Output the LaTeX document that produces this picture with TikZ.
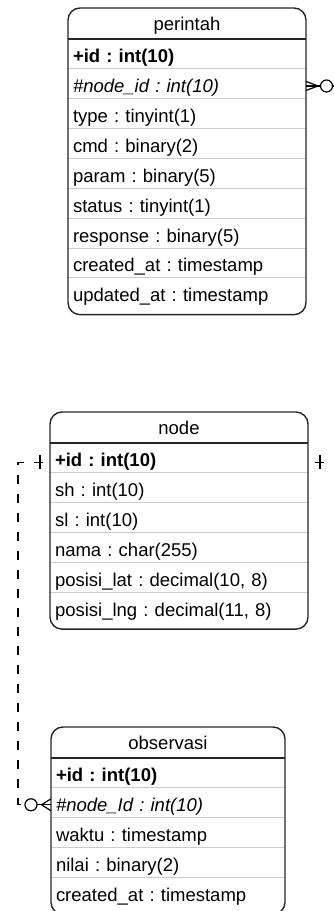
\documentclass[tikz,border=0pt]{standalone}
\usepackage{fontspec}
\setmainfont{Liberation Sans}
\frenchspacing
\usetikzlibrary{positioning}

\tikzset{
  ent/.style={outer sep=0pt, inner xsep=5pt, inner ysep=0pt, text width=#1, align=left,
    minimum height=29.85pt, text height=20pt, text depth=2pt, font=\fontsize{18.5}{20}\selectfont},
  enthead/.style={ent=#1, align=center, minimum height=31pt, text height=16pt, anchor=north west},
  rowsep/.style={draw=gray!40, line width=0.9pt},
  headsep/.style={draw=black!85, line width=1.4pt},
  frame/.style={draw=black!85, line width=1.4pt, rounded corners=12pt},
  rel/.style={draw=black, line width=1.2pt},
  reldash/.style={rel, dash pattern=on 9pt off 10pt, dash phase=12pt},
}

\begin{document}
\begin{tikzpicture}[x=1pt,y=-1pt]
    \useasboundingbox (0,0) rectangle (334,911);
    \clip (0,0) rectangle (334,911);
    % perintah
    \node[enthead=228pt] (perintah) at (68,8) {perintah};
    \node[ent=228pt, below=0pt of perintah] (p1) {\textbf{+id : int(10)}};
    \node[ent=228pt, below=0pt of p1] (p2) {\textit{\#node\_id : int(10)}};
    \node[ent=228pt, below=0pt of p2] (p3) {type : tinyint(1)};
    \node[ent=228pt, below=0pt of p3] (p4) {cmd : binary(2)};
    \node[ent=228pt, below=0pt of p4] (p5) {param : binary(5)};
    \node[ent=228pt, below=0pt of p5] (p6) {status : tinyint(1)};
    \node[ent=228pt, below=0pt of p6] (p7) {response : binary(5)};
    \node[ent=228pt, below=0pt of p7] (p8) {created\_at : timestamp};
    \node[ent=228pt, below=0pt of p8] (p9) {updated\_at : timestamp};
    \foreach \r in {p1,p2,p3,p4,p5,p6,p7,p8}
      \draw[rowsep] (\r.south west) -- (\r.south east);
    \draw[headsep] (perintah.south west) -- (perintah.south east);
    \draw[frame] (perintah.north west) rectangle ([yshift=-7pt]p9.south east);
    % node
    \node[enthead=248pt] (nodes) at (50,412) {node};
    \node[ent=248pt, below=0pt of nodes] (n1) {\textbf{+id : int(10)}};
    \node[ent=248pt, below=0pt of n1] (n2) {sh : int(10)};
    \node[ent=248pt, below=0pt of n2] (n3) {sl : int(10)};
    \node[ent=248pt, below=0pt of n3] (n4) {nama : char(255)};
    \node[ent=248pt, below=0pt of n4] (n5) {posisi\_lat : decimal(10, 8)};
    \node[ent=248pt, below=0pt of n5] (n6) {posisi\_lng : decimal(11, 8)};
    \foreach \r in {n1,n2,n3,n4,n5}
      \draw[rowsep] (\r.south west) -- (\r.south east);
    \draw[headsep] (nodes.south west) -- (nodes.south east);
    \draw[frame] (nodes.north west) rectangle ([yshift=-7pt]n6.south east);
    % observasi
    \node[enthead=224pt] (observasi) at (51,727) {observasi};
    \node[ent=224pt, below=0pt of observasi] (o1) {\textbf{+id : int(10)}};
    \node[ent=224pt, below=0pt of o1] (o2) {\textit{\#node\_Id : int(10)}};
    \node[ent=224pt, below=0pt of o2] (o3) {waktu : timestamp};
    \node[ent=224pt, below=0pt of o3] (o4) {nilai : binary(2)};
    \node[ent=224pt, below=0pt of o4] (o5) {created\_at : timestamp};
    \foreach \r in {o1,o2,o3,o4}
      \draw[rowsep] (\r.south west) -- (\r.south east);
    \draw[headsep] (observasi.south west) -- (observasi.south east);
    \draw[frame] (observasi.north west) rectangle ([yshift=-7pt]o5.south east);
    % node -- observasi
    \draw[reldash] ([yshift=-4.5pt]n1.west) -- ++(-32,0) |- ([xshift=-26pt,yshift=-2pt]o2.west);
    \draw[rel] ([xshift=-10pt,yshift=2.5pt]n1.west) -- ([xshift=-10pt,yshift=-11.5pt]n1.west);
    \draw[rel] ([xshift=-14pt,yshift=-2pt]o2.west) -- ([yshift=-2pt]o2.west);
    \draw[rel] ([xshift=-9.5pt,yshift=-2pt]o2.west) -- ([yshift=4pt]o2.west)
               ([xshift=-9.5pt,yshift=-2pt]o2.west) -- ([yshift=-8pt]o2.west);
    \draw[rel,fill=white] ([xshift=-20pt,yshift=-2pt]o2.west) circle[radius=6pt];
    % node -- perintah
    \draw[reldash] ([yshift=-4.5pt]n1.east) -- ++(37,0) |- ([xshift=26.5pt,yshift=-2.2pt]p2.east);
    \draw[rel] ([xshift=12pt,yshift=2.5pt]n1.east) -- ([xshift=12pt,yshift=-11.5pt]n1.east);
    \draw[rel] ([xshift=14.5pt,yshift=-2.2pt]p2.east) -- ([yshift=-2.2pt]p2.east);
    \draw[rel] ([xshift=12pt,yshift=-2.2pt]p2.east) -- ([yshift=2.3pt]p2.east)
               ([xshift=12pt,yshift=-2.2pt]p2.east) -- ([yshift=-6.7pt]p2.east);
    \draw[rel,fill=white] ([xshift=20.5pt,yshift=-2.2pt]p2.east) circle[radius=6pt];
\end{tikzpicture}
\end{document}
